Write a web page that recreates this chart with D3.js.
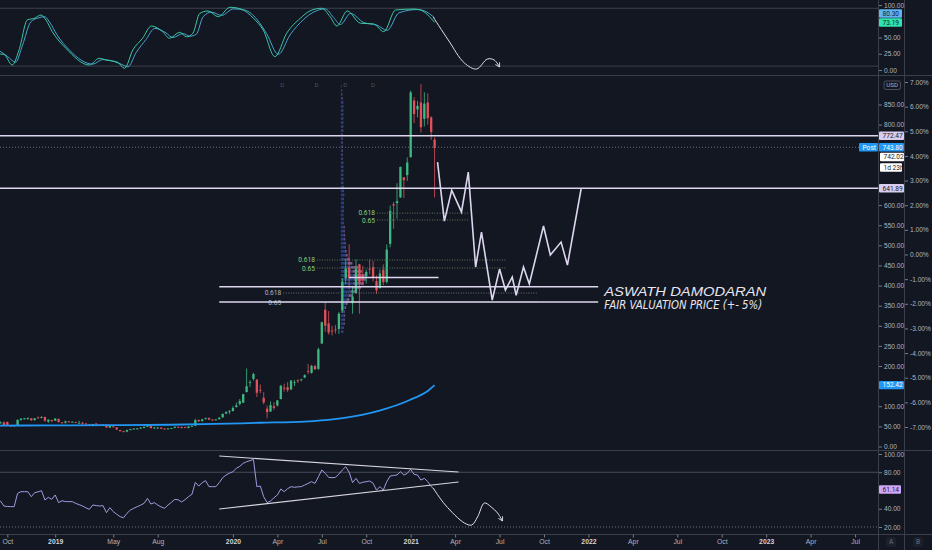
<!DOCTYPE html>
<html>

<head>
    <title>TSLA weekly - Stoch RSI / RSI</title>
    <meta http-equiv="Content-Type" content="text/html; charset=utf-8">
    <script src="https://d3js.org/d3.v7.min.js"></script>
    <style>
        body { margin: 0; background: #131722; }
        svg { display: block; font-family: Roboto, "Liberation Sans", sans-serif; }
        .axis path { display: none; }
        .axis line { stroke: #787b86; }
        .axis text { fill: #b2b5be; font-size: 6.6px; }
    </style>
</head>

<body>
    <svg></svg>
    <script>
        // ---- data ----
        // weekly candles, first bar is the week of 2018-09-03
        const firstWeek = "2018-09-03";
        const opens = [
            59.4, 52.6, 59.5, 59.9, 61.0, 52.0, 52.0, 52.0, 66.0, 69.5,
            69.5, 70.0, 65.5, 72.0, 71.0, 73.5, 62.0, 66.0, 64.0, 68.8,
            60.0, 59.0, 62.5, 61.5, 61.0, 59.0, 59.5, 57.0, 55.0, 52.6,
            57.0, 54.5, 53.8, 54.5, 47.0, 50.0, 47.5, 41.0, 38.0, 37.0,
            42.0, 43.5, 44.3, 45.0, 46.0, 49.0, 51.0, 45.5, 45.5, 47.0,
            44.5, 43.0, 45.0, 46.5, 49.0, 48.5, 48.5, 46.0, 49.5, 51.5,
            66.0, 63.0, 68.0, 70.5, 67.0, 66.0, 68.0, 72.5, 82.0, 86.5,
            88.0, 98.0, 106.0, 109.0, 135.0, 160.0, 168.0, 166.0, 141.0, 121.0,
            94.0, 87.0, 100.0, 102.0, 118.0, 146.0, 147.0, 142.0, 159.0, 164.5,
            166.0, 171.5, 188.0, 183.0, 200.0, 193.0, 256.0, 340.0, 306.0, 288.0,
            291.0, 292.0, 338.0, 418.0, 444.6, 356.0, 381.0, 453.0, 424.6, 423.0,
            442.0, 446.0, 411.0, 394.0, 439.5, 408.9, 503.5, 602.2, 604.9, 619.0,
            668.9, 674.5, 719.5, 860.0, 837.8, 855.0, 814.3, 855.0, 818.0, 762.6
        ];
        const highs = [
            59.7, 59.5, 62.4, 62.4, 62.0, 52.8, 53.0, 66.9, 70.0, 71.0,
            72.0, 70.5, 70.6, 75.0, 75.5, 73.8, 67.0, 66.4, 70.4, 69.0,
            60.8, 64.5, 63.5, 62.5, 61.2, 64.0, 60.0, 58.5, 56.2, 56.0,
            58.0, 55.0, 55.0, 54.8, 52.0, 52.0, 48.0, 41.0, 38.5, 42.0,
            44.0, 45.8, 46.0, 48.6, 49.5, 53.0, 53.5, 49.5, 48.5, 47.5,
            45.5, 45.5, 46.0, 50.0, 49.5, 50.0, 49.0, 50.0, 52.0, 69.0,
            67.0, 69.0, 72.0, 72.5, 67.5, 68.5, 72.5, 82.0, 87.0, 90.5,
            100.5, 109.0, 118.0, 131.0, 193.8, 165.0, 183.5, 167.5, 154.0, 135.0,
            102.0, 112.0, 110.0, 115.0, 153.0, 156.0, 160.0, 165.0, 165.5, 167.0,
            168.0, 179.5, 205.0, 203.0, 203.0, 245.6, 310.0, 359.0, 336.5, 300.0,
            302.0, 334.0, 418.0, 466.0, 502.5, 398.0, 465.0, 454.0, 449.0, 440.0,
            465.0, 461.0, 425.0, 440.0, 452.5, 502.5, 598.8, 607.8, 654.3, 695.0,
            668.9, 718.7, 884.5, 868.0, 859.0, 900.4, 880.5, 877.8, 821.0, 768.5
        ];
        const lows = [
            50.5, 50.9, 57.2, 52.0, 51.1, 49.0, 50.0, 51.0, 64.0, 67.0,
            66.0, 63.8, 64.6, 70.0, 70.0, 61.5, 58.8, 60.2, 63.8, 59.8,
            57.5, 57.0, 60.0, 60.2, 58.0, 58.0, 54.5, 54.2, 52.5, 50.5,
            53.5, 53.2, 52.3, 46.8, 46.5, 47.2, 41.0, 37.2, 35.4, 35.4,
            40.8, 42.8, 43.0, 44.5, 45.5, 48.0, 45.0, 45.0, 44.5, 43.8,
            42.0, 42.5, 43.8, 45.5, 47.5, 44.5, 45.5, 45.0, 49.0, 50.5,
            61.5, 62.5, 67.5, 66.0, 64.0, 65.5, 67.0, 72.0, 80.5, 80.5,
            87.5, 97.0, 102.0, 108.0, 135.0, 148.0, 164.0, 123.0, 132.0, 105.0,
            70.1, 86.0, 91.0, 99.0, 117.0, 136.5, 135.5, 140.0, 150.0, 157.5,
            162.0, 170.0, 180.0, 181.0, 190.0, 190.0, 255.0, 285.0, 278.0, 276.0,
            281.0, 280.0, 332.0, 404.0, 391.0, 330.0, 380.0, 329.9, 400.5, 405.0,
            428.0, 410.0, 379.0, 392.0, 401.0, 405.0, 495.0, 541.0, 566.3, 618.0,
            618.0, 660.0, 717.2, 803.6, 818.0, 780.1, 795.6, 800.0, 762.0, 619.0
        ];
        const closes = [
            52.6, 59.0, 59.8, 53.0, 52.4, 51.8, 52.2, 66.2, 69.3, 70.1,
            70.9, 65.2, 70.1, 71.6, 73.1, 64.0, 66.8, 63.5, 69.5, 60.5,
            59.4, 62.4, 61.2, 61.6, 58.9, 59.0, 56.8, 55.1, 52.9, 56.0,
            55.0, 53.6, 54.7, 47.0, 51.0, 47.9, 42.2, 38.1, 37.0, 40.9,
            43.0, 44.4, 44.7, 46.6, 49.0, 51.6, 45.6, 46.9, 47.0, 44.0,
            42.3, 45.1, 45.9, 49.0, 48.1, 48.4, 46.3, 49.6, 51.4, 65.6,
            62.7, 67.4, 70.4, 66.6, 66.0, 67.2, 71.7, 81.1, 86.1, 88.6,
            95.6, 102.1, 113.0, 130.1, 149.6, 160.0, 180.2, 133.6, 140.7, 109.3,
            85.5, 102.9, 96.0, 114.6, 150.8, 145.0, 140.3, 163.9, 159.8, 163.4,
            167.0, 177.1, 187.1, 200.2, 191.9, 241.7, 308.9, 300.2, 283.4, 286.2,
            290.5, 330.1, 410.0, 442.7, 418.3, 372.7, 442.2, 407.3, 415.1, 434.0,
            439.7, 420.6, 388.0, 430.0, 408.5, 489.6, 585.8, 599.0, 610.0, 695.0,
            661.8, 705.7, 880.0, 826.2, 846.6, 793.5, 852.2, 816.1, 781.3, 742.02
        ];

        // RSI, one value per weekly bar
        const rsiValues = [
            52, 50, 48.5, 43, 42.5, 42.3, 42.3, 56.9, 58.7, 58.7,
            58.7, 53.2, 57.6, 58.5, 59.8, 49.6, 52.5, 50.3, 55.1, 46.7,
            48.8, 47.8, 47.8, 47.8, 45.9, 44.5, 43, 41, 39.3, 44.1,
            43.5, 43, 43.4, 35.7, 41.2, 36.8, 34, 31.3, 30.2, 35,
            38.6, 40.5, 42.3, 44, 45.9, 51.4, 45.2, 46.7, 44.1, 42,
            40.5, 44.1, 47, 50.3, 49.8, 47.4, 50, 53.2, 55.8, 68.9,
            64.9, 68.5, 70.8, 64.2, 64.2, 64.2, 68.6, 74, 77, 79,
            80.6, 84.3, 86.5, 89.8, 91.5, 92.7, 94.1, 64.2, 64.9, 53.2,
            46.7, 48.5, 52, 55.1, 61.6, 58.7, 62, 64.2, 63.5, 64,
            64.2, 66, 67.8, 69.7, 67.8, 75, 82.5, 78.8, 74.4, 74,
            74.4, 78, 82.5, 86.1, 80, 68.6, 73.3, 67.8, 69, 69.7,
            70.4, 68, 60.5, 64.2, 60.5, 69.7, 75.9, 76.5, 77, 80.6,
            77, 78.8, 83.2, 77.7, 77, 71.5, 73.3, 69.7, 64.2, 61.14
        ];

        // Stoch RSI %K and %D
        const stochK = [
            ["2018-09-14", 24.6], ["2018-09-24", 24], ["2018-10-11", 7.7], ["2018-10-25", 30.8],
            ["2018-11-11", 77], ["2018-11-25", 79.5], ["2018-12-09", 84.6], ["2018-12-19", 77],
            ["2019-01-01", 59], ["2019-01-29", 33.4], ["2019-03-18", 7.7], ["2019-04-07", 18],
            ["2019-04-21", 15.4], ["2019-05-15", 11.8], ["2019-05-29", 2.6], ["2019-06-15", 30.8],
            ["2019-07-05", 48.8], ["2019-07-23", 67.7], ["2019-08-15", 59], ["2019-08-29", 48.8],
            ["2019-09-19", 58], ["2019-10-03", 51], ["2019-10-16", 56.5], ["2019-10-30", 87],
            ["2019-11-16", 90.8], ["2019-12-07", 82], ["2019-12-31", 96.5], ["2020-01-24", 93.4],
            ["2020-02-17", 79.5], ["2020-03-08", 61.5], ["2020-04-01", 20.5], ["2020-04-25", 56.5],
            ["2020-05-23", 79.5], ["2020-06-12", 91], ["2020-07-06", 95], ["2020-07-23", 82],
            ["2020-08-06", 67.7], ["2020-08-27", 90.8], ["2020-09-23", 72], ["2020-10-20", 70.8],
            ["2020-11-10", 59], ["2020-12-04", 92.3], ["2021-01-11", 93.8], ["2021-01-24", 92.3],
            ["2021-02-22", 73.19]
        ];
        const stochD = [
            ["2018-09-14", 30], ["2018-10-01", 21], ["2018-10-18", 12], ["2018-11-01", 38],
            ["2018-11-18", 74], ["2018-12-03", 80], ["2018-12-16", 82], ["2018-12-28", 72],
            ["2019-01-10", 55], ["2019-02-06", 30], ["2019-03-25", 9], ["2019-04-14", 16],
            ["2019-04-28", 15], ["2019-05-22", 9], ["2019-06-05", 5], ["2019-06-22", 27],
            ["2019-07-12", 47], ["2019-07-30", 64], ["2019-08-22", 57], ["2019-09-05", 50],
            ["2019-09-26", 56], ["2019-10-10", 52], ["2019-10-23", 55], ["2019-11-06", 82],
            ["2019-11-23", 89], ["2019-12-14", 84], ["2020-01-07", 94], ["2020-01-31", 92],
            ["2020-02-24", 78], ["2020-03-15", 56], ["2020-04-08", 24], ["2020-05-02", 54],
            ["2020-05-30", 78], ["2020-06-19", 89], ["2020-07-13", 94], ["2020-07-30", 81],
            ["2020-08-13", 70], ["2020-09-03", 87], ["2020-09-30", 73], ["2020-10-27", 69],
            ["2020-11-17", 61], ["2020-12-11", 88], ["2021-01-18", 93], ["2021-02-01", 91],
            ["2021-02-22", 80.3]
        ];

        // moving average (blue)
        const smaPoints = [
            ["2018-09-03", 52], ["2019-01-01", 52.5], ["2019-05-01", 53], ["2019-09-01", 54],
            ["2019-12-01", 56], ["2020-03-01", 59], ["2020-06-01", 62], ["2020-08-01", 68],
            ["2020-10-01", 80], ["2020-11-03", 90], ["2021-01-01", 115], ["2021-02-10", 140],
            ["2021-02-22", 152.42]
        ];

        // hand drawn projection on the price pane
        const projection = [
            ["2021-02-28", 707], ["2021-03-14", 560], ["2021-03-29", 637], ["2021-04-18", 583],
            ["2021-05-02", 682], ["2021-05-17", 446], ["2021-05-29", 533], ["2021-06-20", 364],
            ["2021-07-05", 441], ["2021-07-17", 389], ["2021-07-31", 421], ["2021-08-08", 376],
            ["2021-08-23", 446], ["2021-09-04", 404], ["2021-10-03", 548], ["2021-10-17", 476],
            ["2021-11-08", 508], ["2021-11-21", 451], ["2021-12-19", 640]
        ];
        // hand drawn arrows on the oscillators
        const stochNote = [
            ["2021-02-19", 81.5], ["2021-03-22", 46.2], ["2021-04-24", 10.8], ["2021-05-19", 1.5],
            ["2021-06-10", 16.9], ["2021-06-24", 15.4], ["2021-07-05", 4.6]
        ];
        const rsiNote = [
            ["2021-02-19", 62.7], ["2021-03-16", 44.1], ["2021-04-24", 24.4], ["2021-05-09", 22.2],
            ["2021-05-21", 31.0], ["2021-06-04", 46.3], ["2021-06-18", 41.9], ["2021-07-01", 35.3],
            ["2021-07-11", 26.6]
        ];
        const rsiTrendUpper = [["2019-12-09", 97.8], ["2021-04-12", 80.3]];
        const rsiTrendLower = [["2019-12-09", 39.7], ["2021-04-12", 69.3]];

        // horizontal levels
        const fullLevels = [772.47, 641.89];
        const postPrice = 743.80;
        const lastPrice = 742.02;
        const fairRange = [397, 359];
        const fairFrom = "2019-12-09", fairTo = "2022-01-23";
        const shortLevel = [["2020-08-31", 420], ["2021-03-02", 420]];
        const fairText = ["ASWATH DAMODARAN", "FAIR VALUATION PRICE (+- 5%)"];

        // fib retracements: only 0.618 / 0.65 shown
        const fibs = [
            { from: "2020-10-27", to: "2021-05-02", levels: [["0.618", 580], ["0.65", 563]] },
            { from: "2020-06-26", to: "2021-07-17", levels: [["0.618", 463.5], ["0.65", 443.6]] },
            { from: "2020-04-18", to: "2021-09-22", levels: [["0.618", 381.5], ["0.65", 359]] }
        ];

        // fixed range volume profile (bins of $10 from 280)
        const profileStart = "2020-08-14";
        const profileUp = [
            2, 2.5, 3, 3, 3.5, 3, 4, 5, 6, 8, 10, 12, 13, 14, 13, 12, 10, 7, 6, 5,
            4.5, 4, 4, 3.5, 3.5, 3, 3, 2.5, 2.5, 2, 2.5, 2.5, 2.5, 2.5, 3, 2.5, 2.5, 2, 2, 2,
            2, 2, 2, 1.5, 1.5, 1.5, 1.5, 1.5, 1.5, 1.5, 2, 2, 2, 2, 2, 2, 2, 2, 1.5, 1,
            1, 0.5
        ];
        const profileDown = [
            0.5, 0.5, 1, 1, 1, 1, 1.5, 2, 3, 4, 6, 9, 11, 12, 12, 10, 8, 5, 3, 2,
            1.5, 1, 1, 1, 1, 1, 1, 0.5, 0.5, 0.5, 0.5, 0.5, 0.5, 0.5, 0.5, 0.5, 0.5, 0.5, 0.5, 0.5,
            0.5, 0.5, 0.5, 0.5, 0.5, 0.5, 0.5, 0.5, 0.5, 0.5, 0.5, 0.5, 0.5, 0.5, 0.5, 0.5, 0.5, 0.5, 0.5, 0.5,
            0.3, 0.2
        ];
        const eventMarks = ["2020-04-16", "2020-06-25", "2020-08-23", "2020-10-19"];

        // axis ticks
        const priceTicks = [850, 800, 600, 550, 500, 450, 400, 350, 300, 250, 200, 100, 50, 0];
        const pctTicks = [7, 6, 5, 4, 3, 2, 1, 0, -1, -2, -3, -4, -5, -6, -7];
        const stochTicks = [100, 50, 25, 0];
        const stochBands = [95, 6];
        const rsiTicks = [100, 80, 40, 20];
        const timeTickDates = ["2018-10-01", "2019-01-07", "2019-05-06", "2019-08-05", "2020-01-06",
            "2020-04-06", "2020-07-06", "2020-10-05", "2021-01-04", "2021-04-05", "2021-07-05",
            "2021-10-04", "2022-01-03", "2022-04-04", "2022-07-04", "2022-10-03", "2023-01-02",
            "2023-04-03", "2023-07-03"];
        const timeTickLabels = ["Oct", "2019", "May", "Aug", "2020", "Apr", "Jul", "Oct", "2021",
            "Apr", "Jul", "Oct", "2022", "Apr", "Jul", "Oct", "2023", "Apr", "Jul"];

        // ---- layout ----
        const width = 932;
        const height = 550;
        const plotRight = 878;
        const stochPane = [0, 75];
        const mainPane = [76, 450];
        const rsiPane = [451, 534];
        const upColor = "#3dba82";
        const downColor = "#e0525a";
        const lineWhite = "#dcd7ee";
        const sepColor = "#3b3f4c";

        const parseDate = d3.timeParse("%Y-%m-%d");

        const svg = d3.select("svg")
            .attr("width", width)
            .attr("height", height)
            .style("background", "#131722");

        // scales
        const x = d3.scaleTime()
            .domain([parseDate("2018-09-16"), parseDate("2023-08-19")])
            .range([0, plotRight]);
        const yStoch = d3.scaleLinear().domain([0, 100]).range([70, 5]);
        const yMain = d3.scaleLinear().domain([0, 850]).range([446.5, 104.5]);
        const yPct = d3.scaleLinear().domain([-7, 7]).range([427, 82]);
        const yRsi = d3.scaleLinear().domain([20, 100]).range([527, 454]);

        // clip paths for the three panes
        const defs = svg.append("defs");
        [["clipStoch", stochPane], ["clipMain", mainPane], ["clipRsi", rsiPane]].forEach(([id, p]) => {
            defs.append("clipPath").attr("id", id)
                .append("rect").attr("x", 0).attr("y", p[0]).attr("width", plotRight).attr("height", p[1] - p[0]);
        });
        defs.append("marker").attr("id", "arrow")
            .attr("viewBox", "0 0 10 10").attr("refX", 8).attr("refY", 5)
            .attr("markerWidth", 6).attr("markerHeight", 6).attr("orient", "auto")
            .append("path").attr("d", "M1,1 L8,5 L1,9")
            .attr("fill", "none").attr("stroke", "#e0dde8").attr("stroke-width", 1.4);

        const toPts = arr => arr.map(d => [parseDate(d[0]), d[1]]);

        // ---- pane separators ----
        [stochPane[1] + 0.5, mainPane[1] + 0.5, rsiPane[1] + 0.5].forEach(yy => {
            svg.append("line").attr("x1", 0).attr("x2", width).attr("y1", yy).attr("y2", yy)
                .attr("stroke", sepColor);
        });
        [plotRight + 0.5, 904.5].forEach(xx => {
            svg.append("line").attr("x1", xx).attr("x2", xx).attr("y1", 0).attr("y2", height)
                .attr("stroke", sepColor);
        });

        // ---- Stoch RSI pane ----
        const stochG = svg.append("g").attr("clip-path", "url(#clipStoch)");
        stochBands.forEach(v => {
            stochG.append("line").attr("x1", 0).attr("x2", plotRight)
                .attr("y1", yStoch(v)).attr("y2", yStoch(v))
                .attr("stroke", "#3d414d");
        });
        const stochLine = d3.line()
            .x(d => x(d[0])).y(d => yStoch(d[1]))
            .curve(d3.curveMonotoneX);
        stochG.append("path").datum(toPts(stochD))
            .attr("fill", "none").attr("stroke", "#4aa3d2").attr("stroke-width", 1)
            .attr("d", stochLine);
        stochG.append("path").datum(toPts(stochK))
            .attr("fill", "none").attr("stroke", "#38caa0").attr("stroke-width", 1)
            .attr("d", stochLine);
        stochG.append("path").datum(toPts(stochNote))
            .attr("fill", "none").attr("stroke", "#e0dde8").attr("stroke-width", 1)
            .attr("marker-end", "url(#arrow)")
            .attr("d", d3.line().x(d => x(d[0])).y(d => yStoch(d[1])).curve(d3.curveCatmullRom));

        // ---- main price pane ----
        const mainG = svg.append("g").attr("clip-path", "url(#clipMain)");

        // volume profile
        const vol = d3.scaleLinear().domain([0, 26]).range([0, 25]);
        const binLows = d3.range(280, 280 + 10 * profileUp.length, 10);
        const px0 = x(parseDate(profileStart));
        const profile = mainG.append("g");
        binLows.forEach((p, i) => {
            const top = yMain(p + 10) + 0.6;
            const h = yMain(p) - yMain(p + 10) - 1.4;
            profile.append("rect").attr("x", px0).attr("y", top)
                .attr("width", vol(profileUp[i])).attr("height", h)
                .attr("fill", "#2f5ac0").attr("opacity", 0.6);
            profile.append("rect").attr("x", px0 + vol(profileUp[i])).attr("y", top)
                .attr("width", vol(profileDown[i])).attr("height", h)
                .attr("fill", "#b07ac8").attr("opacity", 0.65);
        });

        // candles
        const candles = closes.map((c, i) => ({
            date: d3.timeDay.offset(parseDate(firstWeek), 7 * i),
            o: opens[i], h: highs[i], l: lows[i], c: c
        }));
        mainG.selectAll(".wick")
            .data(candles)
            .enter()
            .append("line")
            .attr("class", "wick")
            .attr("x1", d => x(d.date)).attr("x2", d => x(d.date))
            .attr("y1", d => yMain(d.h)).attr("y2", d => yMain(d.l))
            .attr("stroke", d => d.c >= d.o ? upColor : downColor)
            .attr("stroke-width", 0.8);
        mainG.selectAll(".body")
            .data(candles)
            .enter()
            .append("rect")
            .attr("class", "body")
            .attr("x", d => x(d.date) - 1.15)
            .attr("width", 2.3)
            .attr("y", d => yMain(Math.max(d.o, d.c)))
            .attr("height", d => Math.max(0.9, Math.abs(yMain(d.o) - yMain(d.c))))
            .attr("fill", d => d.c >= d.o ? upColor : downColor);

        // moving average
        mainG.append("path").datum(toPts(smaPoints))
            .attr("fill", "none").attr("stroke", "#2196f3").attr("stroke-width", 1.8)
            .attr("d", d3.line().x(d => x(d[0])).y(d => yMain(d[1])).curve(d3.curveMonotoneX));

        // post-market dotted level
        mainG.append("line").attr("x1", 0).attr("x2", plotRight)
            .attr("y1", yMain(postPrice)).attr("y2", yMain(postPrice))
            .attr("stroke", "#6b7080").attr("stroke-dasharray", "1,2");

        // fib levels
        const fibColors = ["#8fcf7a", "#8fcf7a", "#b2b5be"];
        const fibLineColors = ["#5f735a", "#5f735a", "#6e717c"];
        fibs.forEach((f, k) => {
            const x1 = x(parseDate(f.from));
            const x2 = x(parseDate(f.to));
            f.levels.forEach(([lab, p], j) => {
                mainG.append("line").attr("x1", x1).attr("x2", x2)
                    .attr("y1", yMain(p)).attr("y2", yMain(p))
                    .attr("stroke", fibLineColors[k]).attr("stroke-dasharray", "1,1.5");
                mainG.append("text").attr("x", x1 - 2).attr("y", yMain(p) + (j === 0 ? -0.6 : 0.8))
                    .attr("dy", "0.35em")
                    .attr("text-anchor", "end").attr("fill", fibColors[k])
                    .attr("font-size", 6.6).text(lab);
            });
        });

        // solid horizontal levels
        fullLevels.forEach(p => {
            mainG.append("line").attr("x1", 0).attr("x2", plotRight)
                .attr("y1", yMain(p)).attr("y2", yMain(p))
                .attr("stroke", lineWhite).attr("stroke-width", 1.5);
        });
        fairRange.forEach(p => {
            mainG.append("line")
                .attr("x1", x(parseDate(fairFrom))).attr("x2", x(parseDate(fairTo)))
                .attr("y1", yMain(p)).attr("y2", yMain(p))
                .attr("stroke", lineWhite).attr("stroke-width", 1.5);
        });
        mainG.append("path").datum(toPts(shortLevel))
            .attr("stroke", lineWhite).attr("stroke-width", 1.5)
            .attr("d", d3.line().x(d => x(d[0])).y(d => yMain(d[1])));

        // projection zigzag
        mainG.append("path").datum(toPts(projection))
            .attr("fill", "none").attr("stroke", lineWhite).attr("stroke-width", 1.6)
            .attr("stroke-linejoin", "miter")
            .attr("d", d3.line().x(d => x(d[0])).y(d => yMain(d[1])));

        // annotation text
        const textX = x(parseDate(fairTo)) + 6;
        mainG.append("text").attr("x", textX).attr("y", yMain(fairRange[0]) + 9)
            .attr("fill", "#e8e6f0").attr("font-size", 13).attr("font-style", "italic")
            .attr("font-family", "'Liberation Sans', Arimo, sans-serif")
            .attr("textLength", 162).attr("lengthAdjust", "spacingAndGlyphs")
            .text(fairText[0]);
        mainG.append("text").attr("x", textX).attr("y", yMain(fairRange[1]) + 7)
            .attr("fill", "#e8e6f0").attr("font-size", 13).attr("font-style", "italic")
            .attr("font-family", "'Liberation Sans Narrow', 'DejaVu Sans Condensed', sans-serif")
            .attr("textLength", 158).attr("lengthAdjust", "spacingAndGlyphs")
            .text(fairText[1]);

        // small event markers at the top
        eventMarks.forEach(d => {
            mainG.append("text").attr("x", x(parseDate(d))).attr("y", mainPane[0] + 11)
                .attr("text-anchor", "middle").attr("fill", "#50535e").attr("font-size", 6).text("D");
        });

        // ---- RSI pane ----
        const rsiG = svg.append("g").attr("clip-path", "url(#clipRsi)");
        rsiG.append("line").attr("x1", 0).attr("x2", plotRight)
            .attr("y1", yRsi(80)).attr("y2", yRsi(80)).attr("stroke", "#4a4e5a");
        rsiG.append("line").attr("x1", 0).attr("x2", plotRight)
            .attr("y1", yRsi(20)).attr("y2", yRsi(20))
            .attr("stroke", "#6b6f7a").attr("stroke-dasharray", "1,2");
        rsiG.append("path").datum(rsiValues.map((v, i) => [candles[i].date, v]))
            .attr("fill", "none").attr("stroke", "#a399e0").attr("stroke-width", 1)
            .attr("d", d3.line().x(d => x(d[0])).y(d => yRsi(d[1])));
        [rsiTrendUpper, rsiTrendLower].forEach(t => {
            rsiG.append("path").datum(toPts(t))
                .attr("stroke", "#d6d4de").attr("stroke-width", 1.1)
                .attr("d", d3.line().x(d => x(d[0])).y(d => yRsi(d[1])));
        });
        rsiG.append("path").datum(toPts(rsiNote))
            .attr("fill", "none").attr("stroke", "#e0dde8").attr("stroke-width", 1)
            .attr("marker-end", "url(#arrow)")
            .attr("d", d3.line().x(d => x(d[0])).y(d => yRsi(d[1])).curve(d3.curveCatmullRom));

        // ---- axes ----
        svg.append("g").attr("class", "axis")
            .attr("transform", "translate(" + (plotRight + 1) + ",0)")
            .call(d3.axisRight(yStoch).tickValues(stochTicks).tickSize(3).tickPadding(2).tickFormat(d3.format(".2f")));
        svg.append("g").attr("class", "axis")
            .attr("transform", "translate(" + (plotRight + 1) + ",0)")
            .call(d3.axisRight(yMain).tickValues(priceTicks).tickSize(3).tickPadding(2).tickFormat(d3.format(".2f")));
        svg.append("g").attr("class", "axis")
            .attr("transform", "translate(905,0)")
            .call(d3.axisRight(yPct).tickValues(pctTicks).tickSize(3).tickPadding(2)
                .tickFormat(d => d.toFixed(2) + "%"));
        svg.append("g").attr("class", "axis")
            .attr("transform", "translate(" + (plotRight + 1) + ",0)")
            .call(d3.axisRight(yRsi).tickValues(rsiTicks).tickSize(3).tickPadding(2).tickFormat(d3.format(".2f")));

        const xAxis = svg.append("g").attr("class", "axis")
            .attr("transform", "translate(0," + (rsiPane[1] + 0.5) + ")")
            .call(d3.axisBottom(x)
                .tickValues(timeTickDates.map(parseDate))
                .tickSize(3).tickPadding(2)
                .tickFormat((d, i) => timeTickLabels[i]));
        xAxis.selectAll("text")
            .style("font-size", "6.8px")
            .style("font-weight", (d, i) => /^\d{4}$/.test(timeTickLabels[i]) ? "bold" : "normal")
            .style("fill", (d, i) => /^\d{4}$/.test(timeTickLabels[i]) ? "#d1d4dc" : "#b2b5be");

        // ---- price tags on the axis ----
        function tag(yy, label, bg, fg, x0, w) {
            svg.append("rect").attr("x", x0).attr("y", yy - 4.2)
                .attr("width", w).attr("height", 8.4).attr("rx", 1).attr("fill", bg);
            svg.append("text").attr("x", x0 + 3.5).attr("y", yy).attr("dy", "0.35em")
                .attr("fill", fg).attr("font-size", 6.6).text(label);
        }
        const ax = plotRight + 1;
        tag(yStoch(stochK[stochK.length - 1][1]), "73.19", "#2fe2ae", "#0d2a22", ax, 23);
        tag(yStoch(stochK[stochK.length - 1][1]) - 9, "80.30", "#5fb3f0", "#0d2236", ax, 23);
        tag(yMain(fullLevels[0]), "772.47", "#d8cdee", "#1b1d26", ax, 25);
        tag(yMain(postPrice), "743.80", "#2196f3", "#ffffff", ax, 25);
        tag(yMain(postPrice), "Post", "#2196f3", "#ffffff", 859, 19);
        tag(yMain(lastPrice) + 9, "742.02", "#ffffff", "#1b1d26", ax + 1, 24);
        tag(yMain(lastPrice) + 19.5, "1d 23h", "#ffffff", "#1b1d26", ax + 1, 22);
        tag(yMain(fullLevels[1]), "641.89", "#d8cdee", "#1b1d26", ax, 25);
        tag(yMain(smaPoints[smaPoints.length - 1][1]), "152.42", "#2196f3", "#ffffff", ax, 25);
        tag(yRsi(rsiValues[rsiValues.length - 1]), "61.14", "#d0a6f7", "#1b1d26", ax, 22);

        // currency box
        svg.append("rect").attr("x", 884).attr("y", 81).attr("width", 16.5).attr("height", 8.5)
            .attr("rx", 2).attr("fill", "none").attr("stroke", "#5d606b").attr("stroke-width", 0.8);
        svg.append("text").attr("x", 892.2).attr("y", 85.3).attr("dy", "0.35em")
            .attr("text-anchor", "middle").attr("fill", "#b2b5be").attr("font-size", 6.2).text("USD");

        // bottom right buttons
        [["A", 891], ["B", 918]].forEach(([lab, bx]) => {
            svg.append("rect").attr("x", bx - 5).attr("y", 537).attr("width", 10).attr("height", 10)
                .attr("rx", 2).attr("fill", "#1c202b");
            svg.append("text").attr("x", bx).attr("y", 542).attr("dy", "0.35em")
                .attr("text-anchor", "middle").attr("fill", "#6f727d").attr("font-size", 6.5).text(lab);
        });
    </script>
</body>

</html>
